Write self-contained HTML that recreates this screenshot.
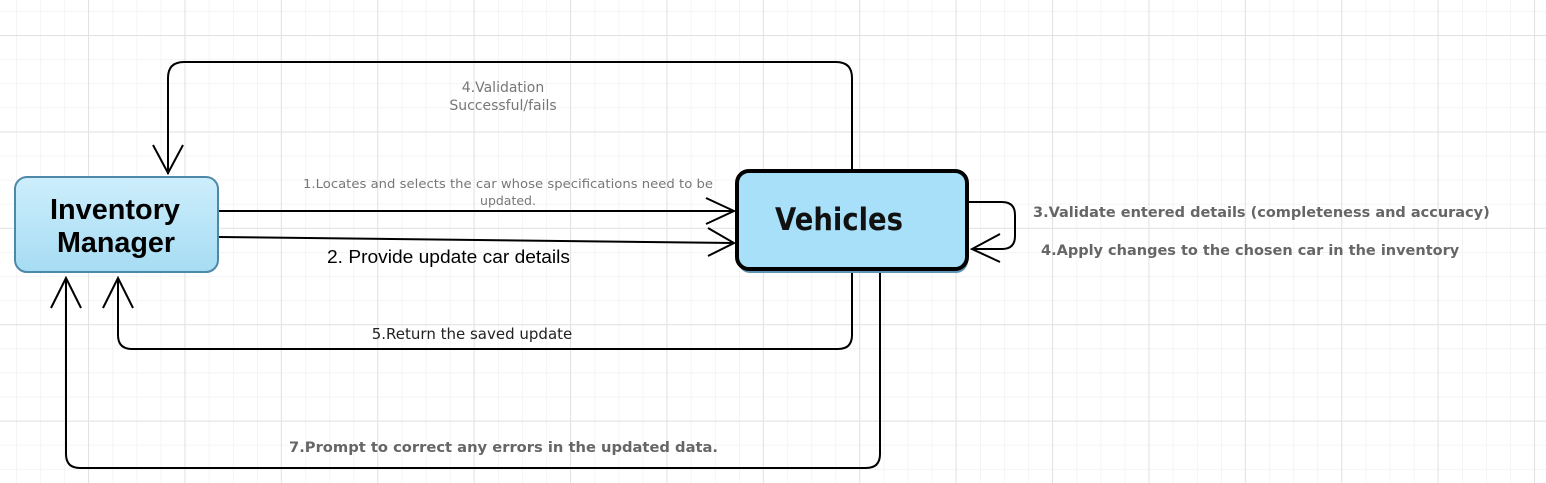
<!DOCTYPE html>
<html><head><style>html,body{margin:0;padding:0;background:#fff}svg{display:block}</style></head>
<body>
<svg width="1546" height="483" xmlns="http://www.w3.org/2000/svg" font-family="'Liberation Sans', 'DejaVu Sans', sans-serif">
<defs>
<pattern id="mn" x="16" y="11" width="24.1" height="24.1" patternUnits="userSpaceOnUse">
<path d="M0 0V24.1M0 0H24.1" stroke="#f1f1f1" stroke-width="1.5" fill="none"/></pattern>
<pattern id="mj" x="88" y="35" width="96.4" height="96.4" patternUnits="userSpaceOnUse">
<path d="M0 0V96.4M0 0H96.4" stroke="#e2e2e2" stroke-width="2" fill="none"/></pattern>
<linearGradient id="g1" x1="0" y1="0" x2="0" y2="1"><stop offset="0" stop-color="#cdeefc"/><stop offset="1" stop-color="#a6dcf3"/></linearGradient>
</defs>
<rect width="1546" height="483" fill="url(#mn)"/>
<rect width="1546" height="483" fill="url(#mj)"/>
<g fill="none" stroke="#000" stroke-width="2">
<path d="M852 170V78Q852 62 836 62H184Q168 62 168 78V174"/>
<path d="M153 145L168 173L183 145"/>
<path d="M218 211H734M706 198L734 211L706 224"/>
<path d="M218 237L734 243M708 228L734 243L708 256"/>
<path d="M968 202H1002Q1015 202 1015 215V236Q1015 249 1002 249H972M1000 234L972 249L1000 262"/>
<path d="M852 272V335Q852 349 838 349H132Q118 349 118 335V278M103 308L118 278L133 308"/>
<path d="M880 272V454Q880 468 866 468H80Q66 468 66 454V278M51 308L66 278L81 308"/>
</g>
<rect x="15" y="177" width="203" height="95" rx="12" fill="url(#g1)" stroke="#4e88a8" stroke-width="2"/>
<text x="115" y="219" text-anchor="middle" font-size="28.5" font-weight="bold" textLength="130" lengthAdjust="spacingAndGlyphs">Inventory</text>
<text x="116" y="252" text-anchor="middle" font-size="28.5" font-weight="bold" textLength="118" lengthAdjust="spacingAndGlyphs">Manager</text>
<rect x="738" y="175" width="230" height="98" rx="12" fill="#5f93b3"/>
<rect x="737" y="171" width="230" height="98" rx="12" fill="#a8e0f9" stroke="#000" stroke-width="4"/>
<text x="839" y="230" text-anchor="middle" font-size="31" font-weight="bold" font-family="'DejaVu Sans', sans-serif" fill="#111" textLength="128" lengthAdjust="spacingAndGlyphs">Vehicles</text>
<g fill="#777" text-anchor="middle" font-family="'DejaVu Sans', sans-serif">
<text x="503" y="92" font-size="14">4.Validation</text>
<text x="503" y="110" font-size="14">Successful/fails</text>
<text x="508" y="188" font-size="12.5" textLength="410" lengthAdjust="spacingAndGlyphs">1.Locates and selects the car whose specifications need to be</text>
<text x="508" y="205" font-size="12.5">updated.</text>
</g>
<text x="327" y="263" font-size="18" fill="#000" textLength="243" lengthAdjust="spacingAndGlyphs">2. Provide update car details</text>
<text x="472" y="339" text-anchor="middle" font-size="15" fill="#222" font-family="'DejaVu Sans', sans-serif">5.Return the saved update</text>
<g fill="#666" font-weight="bold" font-size="14.5" font-family="'DejaVu Sans', sans-serif">
<text x="1033" y="217">3.Validate entered details (completeness and accuracy)</text>
<text x="1041" y="255">4.Apply changes to the chosen car in the inventory</text>
<text x="289" y="452" textLength="429" lengthAdjust="spacingAndGlyphs">7.Prompt to correct any errors in the updated data.</text>
</g>
</svg>
</body></html>
